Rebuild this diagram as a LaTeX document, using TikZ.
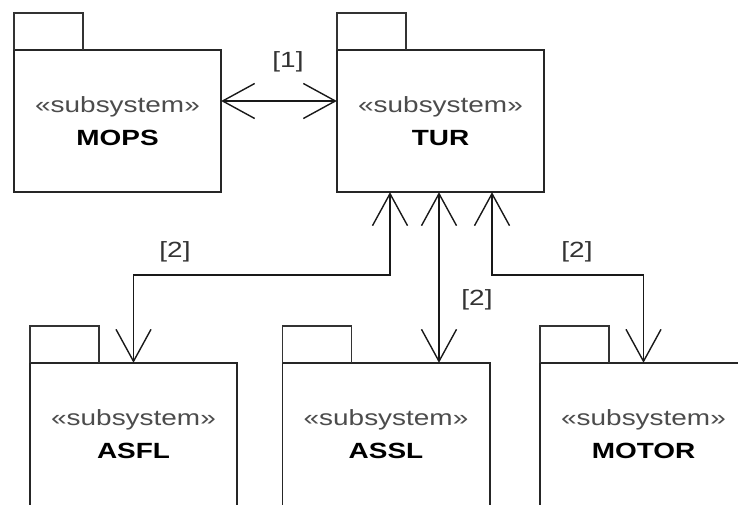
\documentclass[tikz,border=0pt]{standalone}
\usepackage{fontspec}
\setmainfont[FakeStretch=1.27]{Liberation Sans}
\usetikzlibrary{arrows.meta}
\begin{document}
\begin{tikzpicture}[x=1pt,y=-1pt,
  pkg/.style={rectangle, minimum width=207pt, minimum height=142pt, inner sep=0pt, align=center, font=\fontsize{22}{33}\selectfont},
  outline/.style={line width=1.6pt, draw=black!85, line join=miter},
  tabbox/.style={line width=1.6pt, draw=black!80},
  tip/.tip={Straight Barb[length=32pt,width=35pt]},
  conn/.style={line width=1.4pt, draw=black!90, tip-tip},
  lbl/.style={font=\fontsize{22}{26}\selectfont, text=black!80, inner sep=0pt},
  stereo/.style={}]
\useasboundingbox (0,0) rectangle (738,505);
\fill[white] (0,0) rectangle (738,505);

\newcommand{\pkgtext}[1]{{\color{black!70}«subsystem»}\\\textbf{#1}}

\node[pkg] (MOPS)  at (117.5,121) {\pkgtext{MOPS}};
\node[pkg] (TUR)   at (440.5,121) {\pkgtext{TUR}};
\node[pkg] (ASFL)  at (133.5,434) {\pkgtext{ASFL}};
\node[pkg] (ASSL)  at (386,434)   {\pkgtext{ASSL}};
\node[pkg] (MOTOR) at (643.5,434) {\pkgtext{MOTOR}};

% outlines
\draw[outline] (MOPS.south west) rectangle (MOPS.north east);
\draw[outline] (TUR.south west) rectangle (TUR.north east);
\foreach \p in {ASFL,ASSL,MOTOR}{
  \draw[outline] (\p.south west) -- (\p.north west) -- (\p.north east) -- (\p.south east);
}
% tabs
\foreach \p in {MOPS,TUR,ASFL,ASSL,MOTOR}{
  \draw[tabbox] (\p.north west) -- ++(0,-37) -- ++(69,0) -- ++(0,37);
}

% helper coordinates
\coordinate (rowA) at (0,101);
\coordinate (rowB) at (0,275);
\coordinate (colL) at (390,0);
\coordinate (colM) at (439,0);
\coordinate (colR) at (492,0);

% connectors
\draw[conn] (MOPS.east |- rowA) -- (TUR.west |- rowA);
\draw[conn] (TUR.south -| colL) -- (colL |- rowB) -| (ASFL.north);
\draw[conn] (TUR.south -| colM) -- (ASSL.north -| colM);
\draw[conn] (TUR.south -| colR) -- (colR |- rowB) -| (MOTOR.north);

% labels
\node[lbl] (l1)  at (288,62)  {[1]};
\node[lbl] (l2a) at (175,252) {[2]};
\node[lbl] (l2b) at (477,300) {[2]};
\node[lbl] (l2c) at (577,252) {[2]};
\end{tikzpicture}
\end{document}
